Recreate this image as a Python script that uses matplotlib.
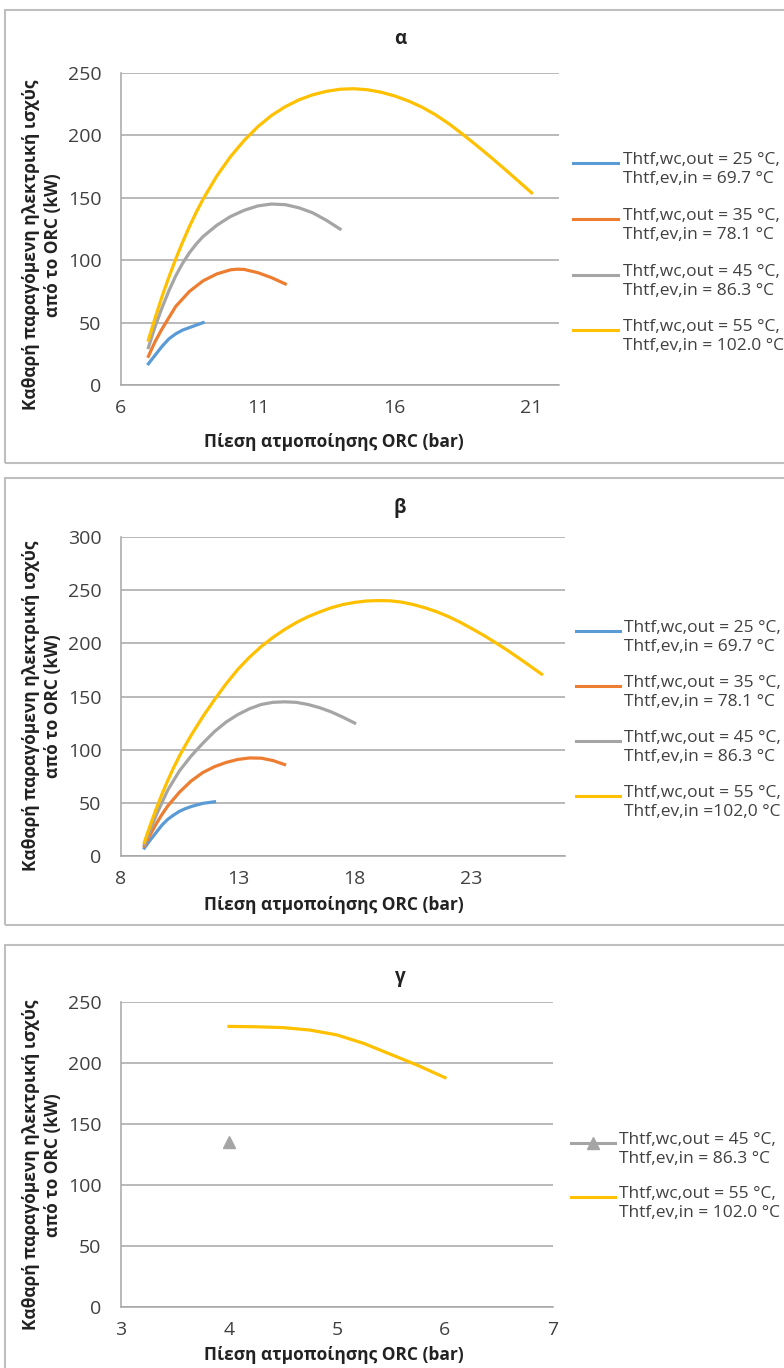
import matplotlib
matplotlib.use('Agg')
import matplotlib.pyplot as plt
from matplotlib.lines import Line2D
from matplotlib.patches import Rectangle

plt.rcParams['font.family'] = ['Open Sans', 'DejaVu Sans']

# ---- δεδομένα (διαβασμένα από το γράφημα) ----
# Διάγραμμα α
a_p25 = [7, 7.25, 7.5, 7.75, 8, 8.25, 8.5, 8.75, 9]
a_w25 = [17, 24, 31, 37, 41, 44, 46, 48, 50]
a_p35 = [7, 7.25, 7.5, 7.75, 8, 8.5, 9, 9.5, 10, 10.25, 10.5, 11, 11.5, 12]
a_w35 = [23, 35, 45, 54, 63, 75, 83.5, 89, 92.3, 92.8, 92.6, 90, 86, 81]
a_p45 = [7, 7.25, 7.5, 7.75, 8, 8.25, 8.5, 8.75, 9, 9.5, 10, 10.5, 11, 11.5, 12, 12.5, 13, 13.5, 14]
a_w45 = [30, 47, 62, 75.5, 87.5, 97.5, 106, 113, 119, 128, 135, 140, 143.5, 145, 144.5, 142, 138, 132, 125]
a_p55 = [7, 7.25, 7.5, 7.75, 8, 8.25, 8.5, 8.75, 9, 9.5, 10, 10.5, 11, 11.5, 12, 12.5, 13, 13.5,
         14, 14.5, 15, 15.5, 16, 16.5, 17, 17.5, 18, 18.5, 19, 19.5, 20, 20.5, 21]
a_w55 = [36, 54, 71, 86.5, 101, 114.5, 127, 138.5, 149, 167.5, 183, 196, 207, 216, 223, 228.5, 232.5,
         235.3, 237, 237.4, 236.6, 234.6, 231.6, 227.6, 222.6, 216.4, 209, 200.6, 191.8, 182.7,
         173.3, 163.7, 154]

# Διάγραμμα β
b_p25 = [9, 9.25, 9.5, 9.75, 10, 10.25, 10.5, 10.75, 11, 11.5, 12]
b_w25 = [7.5, 15, 22, 29, 34.5, 38.5, 42, 44.5, 46.5, 49.5, 51]
b_p35 = [9, 9.25, 9.5, 9.75, 10, 10.5, 11, 11.5, 12, 12.5, 13, 13.5, 14, 14.5, 15]
b_w35 = [9.5, 20, 30, 39, 47, 60, 70.5, 78.5, 84, 88, 90.8, 92.2, 92, 89.8, 86]
b_p45 = [9, 9.5, 10, 10.5, 11, 11.5, 12, 12.5, 13, 13.5, 14, 14.5, 15, 15.5, 16,
         16.5, 17, 17.5, 18]
b_w45 = [11, 38, 62, 80, 94, 106, 117, 126, 133, 138.5, 142.5, 144.5, 145, 144.5, 142.5,
         139.5, 135.5, 130.5, 125]
b_p55 = [9, 9.25, 9.5, 9.75, 10, 10.25, 10.5, 10.75, 11, 11.5, 12, 12.5, 13, 13.5, 14, 14.5, 15,
         15.5, 16, 16.5, 17, 17.5, 18, 18.5, 19, 19.5, 20, 20.5, 21, 21.5, 22, 22.5, 23, 23.5,
         24, 24.5, 25, 25.5, 26]
b_w55 = [13, 29, 44, 58, 71, 83, 94, 104, 113.5, 131, 147, 162, 175.5, 187, 197, 205.5, 213,
         219.5, 225, 229.5, 233.5, 236.5, 238.5, 239.8, 240.2, 240, 238.8, 236.5, 233.5, 229.8,
         225.3, 220, 214, 207.8, 201, 194, 186.5, 178.8, 171]

# Διάγραμμα γ
g_p45 = [4]
g_w45 = [135]
g_p55 = [4, 4.25, 4.5, 4.75, 5, 5.25, 5.5, 5.75, 6]
g_w55 = [230, 229.7, 229, 227, 223, 216, 207, 198, 188]

labels_a = ['Thtf,wc,out = 25 °C,\nThtf,ev,in = 69.7 °C',
            'Thtf,wc,out = 35 °C,\nThtf,ev,in = 78.1 °C',
            'Thtf,wc,out = 45 °C,\nThtf,ev,in = 86.3 °C',
            'Thtf,wc,out = 55 °C,\nThtf,ev,in = 102.0 °C']
labels_b = labels_a[:3] + ['Thtf,wc,out = 55 °C,\nThtf,ev,in =102,0 °C']
labels_g = [labels_a[2], labels_a[3]]

ylabel = 'Καθαρή παραγόμενη ηλεκτρική ισχύς\nαπό το ORC (kW)'
xlabel = 'Πίεση ατμοποίησης ORC (bar)'
titles = ['α', 'β', 'γ']

C25, C35, C45, C55 = '#5B9BD5', '#ED7D31', '#A5A5A5', '#FFC000'
GRID = '#a6a6a6'
TXT = '#404040'

W, H = 784, 1368
fig = plt.figure(figsize=(W / 100, H / 100), dpi=100)


def fx(px):
    return px / W


def fy(py):
    return 1 - py / H


def make_axes(x0, x1, ytop, ybot, xlim, ylim, xticks, yticks):
    ax = fig.add_axes([fx(x0), fy(ybot), fx(x1 - x0), (ybot - ytop) / H])
    ax.set_xlim(*xlim)
    ax.set_ylim(*ylim)
    ax.set_xticks(xticks)
    ax.set_yticks(yticks)
    ax.grid(axis='y', color=GRID, lw=1.1)
    ax.set_axisbelow(True)
    for s in ['top', 'right']:
        ax.spines[s].set_visible(False)
    for s in ['left', 'bottom']:
        ax.spines[s].set_color(GRID)
        ax.spines[s].set_linewidth(1.1)
    ax.tick_params(length=0, labelsize=14, colors=TXT, pad=10)
    ax.tick_params(axis='y', pad=14)
    return ax


def panel_border(ytop, ybot):
    fig.add_artist(Rectangle((fx(5), fy(ybot)), fx(800), (ybot - ytop) / H,
                             transform=fig.transFigure, fill=False,
                             edgecolor='#bfbfbf', lw=1.5, clip_on=False))


def legend(handles_x, text_x, ys, labels, colors, markers):
    for y, lab, c, m in zip(ys, labels, colors, markers):
        fig.add_artist(Line2D([fx(handles_x[0]), fx(handles_x[1])], [fy(y), fy(y)],
                              transform=fig.transFigure, color=c, lw=2.2))
        if m:
            fig.add_artist(Line2D([fx(sum(handles_x) / 2)], [fy(y)], transform=fig.transFigure,
                                  color=c, marker=m, ms=8, lw=0))
        fig.text(fx(text_x), fy(y - 11), lab, fontsize=12.5, color=TXT,
                 va='top', ha='left', linespacing=1.25)


def labels(title, title_y, ylab_y, xlab_y):
    fig.text(fx(400), fy(title_y), title, fontsize=13.5, fontweight='bold',
             ha='center', va='center', color='#222222')
    fig.text(fx(42), fy(ylab_y), ylabel, rotation=90, fontsize=12.5, fontweight='bold',
             ha='center', va='center', multialignment='center', linespacing=1.3, color='#222222')
    fig.text(fx(334), fy(xlab_y), xlabel, fontsize=12.5, fontweight='bold',
             ha='center', va='center', color='#222222')


LW = 2.3

# ---- α ----
panel_border(10, 463)
ax1 = make_axes(121, 559, 73, 385, (6, 22), (0, 250), [6, 11, 16, 21], range(0, 251, 50))
ax1.plot(a_p25, a_w25, color=C25, lw=LW)
ax1.plot(a_p35, a_w35, color=C35, lw=LW)
ax1.plot(a_p45, a_w45, color=C45, lw=LW)
ax1.plot(a_p55, a_w55, color=C55, lw=LW)
labels(titles[0], 39, 245, 442)
legend((573, 618), 623, [163, 219, 275, 330], labels_a, [C25, C35, C45, C55], [None] * 4)

# ---- β ----
panel_border(478, 925)
ax2 = make_axes(121, 565, 537, 856, (8, 27), (0, 300), [8, 13, 18, 23], range(0, 301, 50))
ax2.plot(b_p25, b_w25, color=C25, lw=LW)
ax2.plot(b_p35, b_w35, color=C35, lw=LW)
ax2.plot(b_p45, b_w45, color=C45, lw=LW)
ax2.plot(b_p55, b_w55, color=C55, lw=LW)
labels(titles[1], 508, 706, 905)
legend((576, 620), 624, [631, 686, 741, 796], labels_b, [C25, C35, C45, C55], [None] * 4)

# ---- γ ----
panel_border(945, 1400)
ax3 = make_axes(121, 553, 1002, 1307, (3, 7), (0, 250), [3, 4, 5, 6, 7], range(0, 251, 50))
ax3.plot(g_p45, g_w45, color=C45, lw=LW, marker='^', ms=9)
ax3.plot(g_p55, g_w55, color=C55, lw=LW)
labels(titles[2], 977, 1165, 1355)
legend((571, 615), 619, [1143, 1197], labels_g, [C45, C55], ['^', None])

fig.savefig('out.png', dpi=100)
